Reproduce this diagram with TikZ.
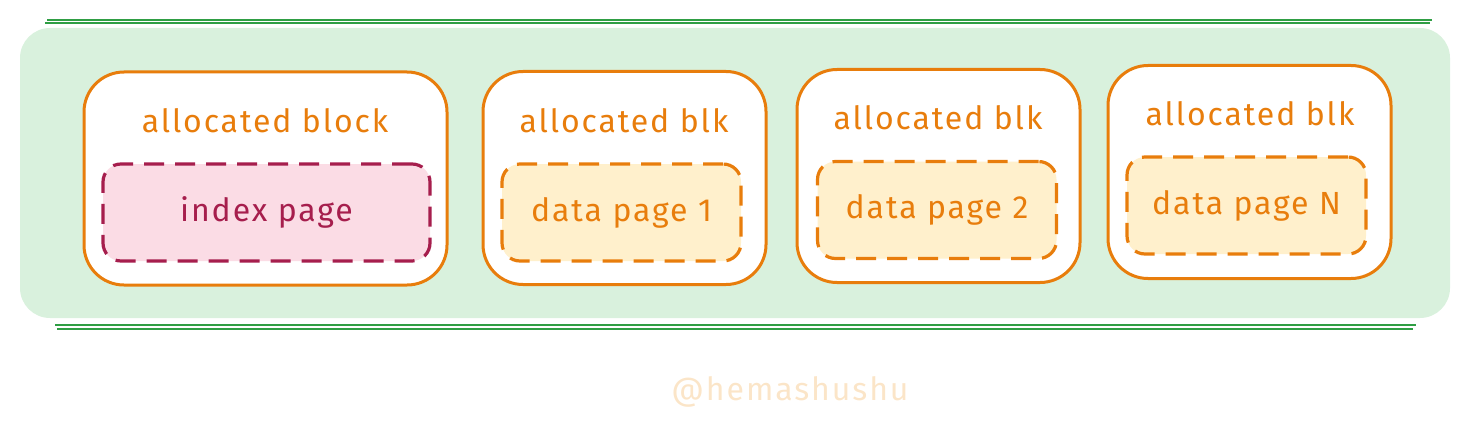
\documentclass[tikz,border=0pt]{standalone}
\usepackage{fontspec}
\setmainfont[LetterSpace=6]{Fira Sans}
\definecolor{gline}{RGB}{47,158,68}
\definecolor{gfill}{RGB}{217,241,221}
\definecolor{ostroke}{RGB}{232,125,12}
\definecolor{ofill}{RGB}{255,240,204}
\definecolor{pstroke}{RGB}{166,30,77}
\definecolor{pfill}{RGB}{251,220,229}
\definecolor{wmark}{RGB}{251,229,200}
\tikzset{
  band/.style={draw=none, fill=gfill, rounded corners=30pt, minimum width=1430pt, minimum height=290pt},
  gl/.style={draw=gline, line width=1.8pt},
  blk/.style={draw=ostroke, fill=white, line width=3pt, rounded corners=40pt, minimum width=#1, minimum height=213pt},
  inner/.style={line width=3.2pt, dash pattern=on 20pt off 11pt, rounded corners=18pt, minimum width=#1, minimum height=97pt},
  dpage/.style={inner=239pt, draw=ostroke, fill=ofill, text=ostroke},
  ipage/.style={inner=327pt, draw=pstroke, fill=pfill, text=pstroke},
  lbl/.style={text=ostroke, font=\fontsize{32}{38}\selectfont},
  plbl/.style={font=\fontsize{32}{38}\selectfont}
}
\begin{document}
\begin{tikzpicture}[x=1pt,y=-1pt]
\useasboundingbox (0,0) rectangle (1471,433);
\node[band] (bg) at (735,173) {};
% green edge lines
\coordinate (t1a) at (47,20); \coordinate (t1b) at (1432,20);
\coordinate (t2a) at (45,23); \coordinate (t2b) at (1430,23);
\coordinate (b1a) at (55,325); \coordinate (b1b) at (1416,325);
\coordinate (b2a) at (57,329); \coordinate (b2b) at (1413,329);
\draw[gl] (t1a) -- (t1b);
\draw[gl] (t2a) -- (t2b);
\draw[gl] (b1a) -- (b1b);
\draw[gl] (b2a) -- (b2b);
% blocks
\node[blk=363pt] (blk1) at (265.5,178.5) {};
\node[blk=283pt] (blk2) at (624.5,178) {};
\node[blk=283pt] (blk3) at (938.5,176) {};
\node[blk=283pt] (blk4) at (1249.5,172) {};
% inner pages
\node[ipage, plbl] (ip) at (266.5,212.5) {index page};
\node[dpage, plbl] (dp1) at (621.5,212.5) {data page 1};
\node[dpage, plbl] (dp2) at (937,210) {data page 2};
\node[dpage, plbl] (dpn) at (1246.5,205.5) {data page N};
% labels
\node[lbl] (l1) at (265,121) {allocated block};
\node[lbl] (l2) at (624,121) {allocated blk};
\node[lbl] (l3) at (938,118) {allocated blk};
\node[lbl] (l4) at (1250,114) {allocated blk};
% watermark
\node[text=wmark, font=\fontsize{32}{38}\selectfont] (wm) at (790,392) {@hemashushu};
\end{tikzpicture}
\end{document}
